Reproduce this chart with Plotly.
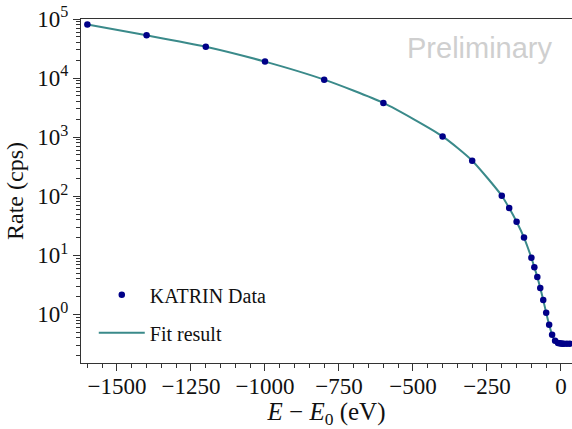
import plotly.graph_objects as go

# Data
energy = [-1600, -1400, -1200, -1000, -800, -600, -400, -300, -200, -175, -150, -125,
          -100, -90, -80, -70, -60, -50, -40, -30, -20, -10, -5, 0, 5, 10, 20, 30]
rate = [80500, 53000, 34000, 19000, 9400, 3800, 1030, 400, 102, 63, 37, 20,
        9.1, 6.3, 4.3, 2.8, 1.75, 1.07, 0.67, 0.455, 0.36, 0.33, 0.325, 0.322, 0.32, 0.32, 0.32, 0.32]

fit_energy = [-1600, -1400, -1200, -1000, -800, -600, -400, -300, -200, -175, -150, -125,
              -100, -90, -80, -70, -60, -50, -40, -30, -20, -10, 0, 10, 20, 37]
fit_rate = [80500, 53000, 34000, 19000, 9400, 3800, 1030, 400, 102, 63, 37, 20,
            9.1, 6.3, 4.3, 2.8, 1.75, 1.07, 0.67, 0.455, 0.36, 0.33, 0.322, 0.32, 0.32, 0.32]

x_ticks = [-1500, -1250, -1000, -750, -500, -250, 0]
x_minor = [v for v in range(-1600, 50, 50)]
y_exps = [0, 1, 2, 3, 4, 5]
y_major = [10 ** k for k in y_exps]
y_labels = ["10<sup>%d</sup>" % k for k in y_exps]
y_minor = [m * 10 ** k for k in range(-1, 5) for m in range(2, 10)]

SERIF = "Liberation Serif"
AX = "#333333"

fig = go.Figure()
fig.add_trace(go.Scatter(
    x=fit_energy, y=fit_rate, mode="lines", name="Fit result",
    line=dict(color="#3a8a8a", width=2, shape="spline", smoothing=0.6),
    legendrank=2, legendgroup="b"))
fig.add_trace(go.Scatter(
    x=energy, y=rate, mode="markers", name="KATRIN Data",
    marker=dict(color="#000088", size=6.5),
    legendrank=1, legendgroup="a"))

fig.add_annotation(text="Preliminary", x=0.812, y=0.915, xref="paper", yref="paper",
                   xanchor="center", yanchor="middle",
                   showarrow=False, font=dict(family="Liberation Sans", size=29, color="#cfcfcf"))

fig.update_layout(
    width=572, height=429,
    margin=dict(l=81, r=0, t=19, b=66),
    plot_bgcolor="white", paper_bgcolor="white",
    font=dict(family=SERIF, size=23, color="#111111"),
    showlegend=True,
    legend=dict(x=0.026, y=0.255, xanchor="left", yanchor="top", bgcolor="rgba(0,0,0,0)",
                font=dict(family=SERIF, size=20), tracegroupgap=9, itemwidth=46),
    xaxis=dict(
        range=[-1621.6, 37.2], showgrid=False, zeroline=False,
        showline=True, linecolor=AX, linewidth=1, mirror=True,
        tickmode="array", tickvals=x_ticks, ticks="outside", ticklen=7, tickcolor=AX,
        ticklabelstandoff=-5,
        minor=dict(tickmode="array", tickvals=x_minor, ticks="outside", ticklen=4, tickcolor=AX),
        title=dict(text="<i>E</i> − <i>E</i><sub>0</sub> (eV)", font=dict(size=25), standoff=12),
    ),
    yaxis=dict(
        type="log", range=[-0.822, 5], showgrid=False, zeroline=False,
        showline=True, linecolor=AX, linewidth=1,
        tickmode="array", tickvals=y_major, ticktext=y_labels,
        ticks="outside", ticklen=7, tickcolor=AX,
        minor=dict(tickmode="array", tickvals=y_minor, ticks="outside", ticklen=4, tickcolor=AX),
        title=dict(text="Rate (cps)", font=dict(size=24), standoff=6),
    ),
)

fig.write_html("out.html")
